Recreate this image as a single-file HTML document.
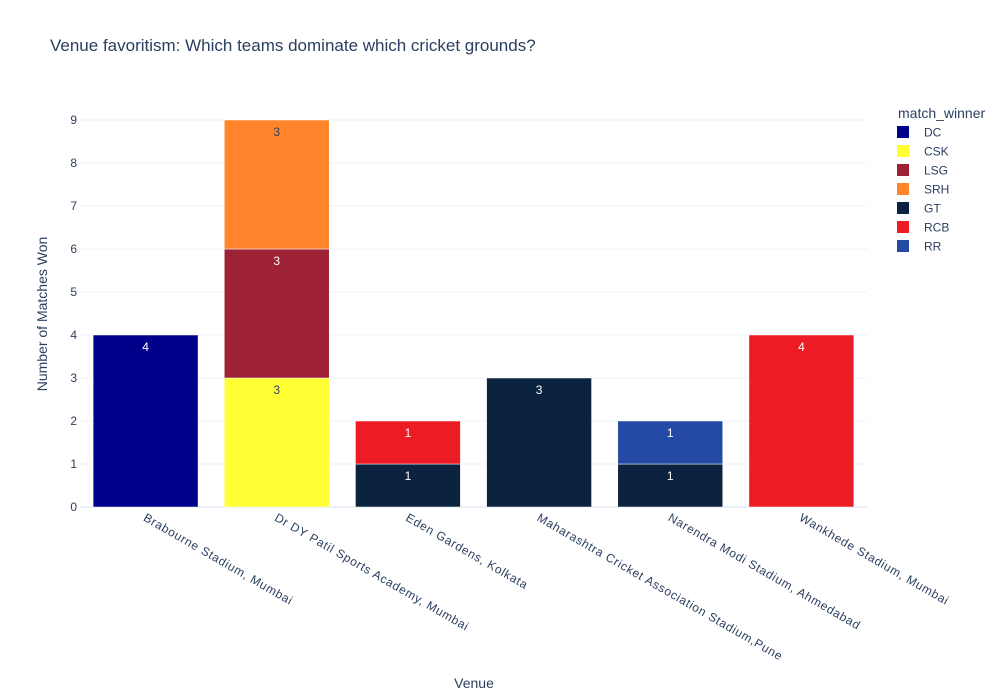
<!DOCTYPE html>
<html><head><meta charset="utf-8">
<style>
html,body{margin:0;padding:0;background:#fff;}
svg{display:block;font-family:"Liberation Sans",Arial,sans-serif;}
</style></head>
<body>
<svg id="chart" width="1000" height="700">
<rect width="1000" height="700" fill="#fff"/>
<text x="50" y="51" font-size="17" fill="#2a3f5f">Venue favoritism: Which teams dominate which cricket grounds?</text>
<g id="grid"></g>
<g id="bars"></g>
<g id="yticks"></g>
<g id="xticks"></g>
<text x="474" y="688" font-size="14" fill="#2a3f5f" text-anchor="middle">Venue</text>
<text transform="translate(47,314) rotate(-90)" font-size="14" fill="#2a3f5f" text-anchor="middle">Number of Matches Won</text>
<text x="898" y="118" font-size="14" fill="#2a3f5f">match_winner</text>
<g id="legend"></g>
</svg>
<script>
const venues = ["Brabourne Stadium, Mumbai","Dr DY Patil Sports Academy, Mumbai","Eden Gardens, Kolkata","Maharashtra Cricket Association Stadium,Pune","Narendra Modi Stadium, Ahmedabad","Wankhede Stadium, Mumbai"];
const teams = ["DC","CSK","LSG","SRH","GT","RCB","RR"];
const DC  = [4,0,0,0,0,0];
const CSK = [0,3,0,0,0,0];
const LSG = [0,3,0,0,0,0];
const SRH = [0,3,0,0,0,0];
const GT  = [0,0,1,3,1,0];
const RCB = [0,0,1,0,0,4];
const RR  = [0,0,0,0,1,0];
const yTicks = [0,1,2,3,4,5,6,7,8,9];
const series = [DC,CSK,LSG,SRH,GT,RCB,RR];
const colors = ["#00008b","#ffff33","#9e2236","#ff842a","#0c233f","#ed1b24","#254aa5"];
const textCol = ["#fff","#2a3f5f","#fff","#2a3f5f","#fff","#fff","#fff"];
const NS="http://www.w3.org/2000/svg";
const L=80,R=867,T=120,B=507,ymax=9;
const y=v=>B-(v/ymax)*(B-T);
const band=(R-L)/venues.length;
const xc=i=>L+band*(i+0.5);
const bw=band*0.8;
function mk(tag,attrs,parent){const e=document.createElementNS(NS,tag);for(const k in attrs)e.setAttribute(k,attrs[k]);document.getElementById(parent).appendChild(e);return e;}
yTicks.forEach(t=>{
  const g=mk("line",{x1:L,x2:R,y1:y(t),y2:y(t),stroke:"#ebf0f8","stroke-width":t===0?2:1},"grid");
  
  
  const tx=mk("text",{x:L-3,y:y(t)+4,"font-size":12,fill:"#2a3f5f","text-anchor":"end"},"yticks");
  tx.textContent=t;
  
  
});
venues.forEach((v,i)=>{
  let base=0;
  series.forEach((s,j)=>{
    const val=s[i]; if(!val) return;
    const r=mk("rect",{x:xc(i)-bw/2,y:y(base+val),width:bw,height:y(base)-y(base+val),fill:colors[j],stroke:"#fff","stroke-width":0.5},"bars");
    
    
    const lt=mk("text",{x:xc(i),y:y(base+val)+16,"font-size":12,fill:textCol[j],"text-anchor":"middle"},"bars");
    lt.textContent=val;
    
    
    base+=val;
  });
  const t=mk("text",{transform:`translate(${xc(i)-3},${520}) rotate(30)`,"font-size":12,"letter-spacing":0.7,fill:"#2a3f5f"},"xticks");
  t.textContent=v;
  
  
});
teams.forEach((tm,j)=>{
  const yy=132+j*19;
  const r=mk("rect",{x:897,y:yy-6,width:12,height:12,fill:colors[j]},"legend");
  
  
  const t=mk("text",{x:924,y:yy+4.5,"font-size":12,fill:"#2a3f5f"},"legend");
  t.textContent=tm;
  
  
});
</script>
</body></html>
